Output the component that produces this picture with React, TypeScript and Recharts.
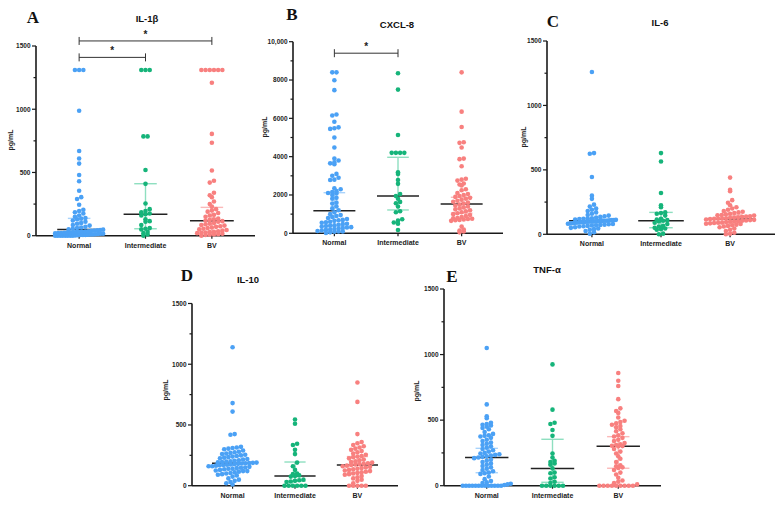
import React from "react";
import { ScatterChart, Scatter, XAxis, YAxis, ReferenceLine } from "recharts";

const GROUPS = ["Normal", "Intermediate", "BV"];
const DOT = ["#4ba1f5", "#16b47a", "#f8807f"];
const BAR = ["#a9d3fb", "#8fdfc0", "#fbb9b9"];
const AXIS = "#1a1a1a";

// IL-1β (pg/mL)
const il1bNormal = [1310, 1310, 1310, 988, 670, 610, 570, 480, 430, 355, 305, 290, 245, 205, 195, 185, 175, 160, 150, 140, 135, 130, 120, 110, 100, 95, 85, 80, 70, 65, 60, 55, 50, 48, 45, 42, 40, 38, 35, 32, 30, 30, 28, 26, 25, 25, 22, 20, 20, 18, 15, 15, 14, 12, 10, 10, 8, 6, 5, 5, 3, 2, 0, 0, 0, 0, 0, 0, 0, 0];
const il1bIntermediate = [1310, 1310, 1310, 785, 785, 520, 410, 255, 210, 195, 185, 175, 170, 160, 130, 115, 110, 85, 60, 55, 50, 30, 20, 10, 0];
const il1bBV = [1310, 1310, 1310, 1310, 1310, 1310, 1210, 805, 735, 515, 435, 420, 340, 320, 305, 270, 250, 230, 210, 200, 190, 180, 165, 160, 150, 135, 130, 125, 120, 115, 110, 100, 95, 90, 85, 80, 75, 70, 65, 60, 55, 50, 45, 40, 35, 30, 28, 25, 22, 20, 15, 12, 10, 8, 5, 0];
const il1bMedian = [50, 169, 119];
const il1bQ1 = [10, 55, 30];
const il1bQ3 = [137, 411, 224];
const il1bBrackets = [
  { from: 0, to: 1, y: 1410 },
  { from: 0, to: 2, y: 1540 },
];

// CXCL-8 (pg/mL)
const cxcl8Normal = [8400, 8400, 7990, 7470, 6200, 6150, 5820, 5530, 5480, 5450, 5000, 4480, 3900, 3800, 3700, 3650, 3600, 3100, 3000, 2900, 2800, 2780, 2350, 2300, 2200, 2150, 2100, 2080, 2000, 1850, 1800, 1600, 1550, 1400, 1300, 1200, 1100, 1000, 950, 900, 850, 800, 750, 700, 680, 650, 600, 580, 550, 500, 480, 450, 420, 400, 380, 350, 320, 300, 280, 250, 220, 200, 180, 150, 120, 100, 100, 80, 50, 20];
const cxcl8Intermediate = [8350, 7500, 5130, 4200, 4200, 4200, 4200, 3180, 3100, 2780, 2580, 2050, 1950, 1800, 1640, 1570, 1400, 1150, 1100, 730, 660, 560, 500, 170];
const cxcl8BV = [8400, 6350, 5550, 4750, 4720, 4480, 3900, 3870, 3500, 2850, 2800, 2750, 2600, 2550, 2500, 2300, 2250, 2100, 2050, 2000, 1950, 1900, 1850, 1800, 1750, 1700, 1650, 1600, 1550, 1500, 1450, 1400, 1350, 1300, 1250, 1200, 1150, 1100, 1050, 1000, 950, 900, 850, 800, 780, 760, 750, 720, 700, 680, 650, 350, 200, 150, 100, 50];
const cxcl8Median = [1180, 1947, 1530];
const cxcl8Q1 = [380, 1218, 1050];
const cxcl8Q3 = [2120, 3967, 1880];
const cxcl8Brackets = [{ from: 0, to: 1, y: 9400 }];

// IL-6 (pg/mL)
const il6Normal = [1260, 630, 625, 445, 300, 275, 230, 215, 200, 190, 180, 170, 160, 150, 145, 140, 135, 130, 125, 120, 120, 118, 115, 112, 110, 110, 108, 106, 105, 105, 104, 103, 102, 101, 100, 100, 99, 98, 97, 96, 95, 94, 92, 90, 88, 86, 84, 82, 80, 78, 75, 72, 70, 68, 65, 62, 60, 55, 50, 45, 40, 35, 25, 15, 5];
const il6Intermediate = [630, 565, 320, 225, 210, 170, 165, 160, 145, 120, 115, 110, 105, 100, 90, 80, 65, 60, 50, 45, 40, 35, 5, 0];
const il6BV = [440, 345, 335, 265, 245, 225, 210, 200, 190, 180, 175, 170, 165, 160, 155, 150, 148, 145, 140, 138, 135, 132, 130, 128, 125, 123, 121, 120, 118, 115, 112, 110, 108, 105, 102, 100, 98, 95, 92, 90, 88, 85, 82, 80, 75, 70, 65, 60, 55, 45, 35, 25, 12, 5, 0];
const il6Median = [105, 105, 119];
const il6Q1 = [80, 51, 80];
const il6Q3 = [125, 170, 150];

// IL-10 (pg/mL)
const il10Normal = [1140, 680, 610, 425, 420, 320, 315, 310, 305, 300, 290, 280, 275, 270, 265, 260, 255, 250, 245, 240, 235, 230, 225, 220, 215, 210, 205, 200, 198, 195, 192, 190, 188, 186, 185, 183, 180, 178, 175, 172, 170, 168, 165, 160, 160, 155, 150, 148, 145, 140, 140, 135, 130, 125, 120, 120, 115, 110, 105, 100, 95, 90, 85, 75, 60, 50, 40, 30, 20, 10];
const il10Intermediate = [545, 510, 345, 335, 295, 260, 190, 160, 130, 100, 95, 85, 80, 75, 50, 45, 40, 35, 30, 0, 0, 0, 0, 0, 0];
const il10BV = [850, 690, 425, 360, 350, 335, 325, 315, 305, 295, 285, 275, 265, 255, 245, 240, 235, 225, 215, 210, 200, 195, 190, 185, 180, 178, 175, 170, 165, 160, 155, 150, 145, 140, 135, 130, 125, 120, 115, 110, 105, 100, 95, 90, 80, 70, 60, 50, 40, 20, 0, 0, 0, 0, 0];
const il10Median = [185, 80, 170];
const il10Q1 = [130, 38, 110];
const il10Q3 = [245, 195, 240];

// TNF-α (pg/mL)
const tnfNormal = [1050, 620, 530, 515, 480, 470, 465, 460, 450, 440, 430, 410, 395, 385, 380, 375, 365, 350, 340, 330, 320, 310, 300, 290, 280, 270, 260, 250, 245, 240, 235, 230, 225, 220, 215, 210, 200, 190, 180, 170, 160, 150, 140, 130, 120, 110, 100, 95, 90, 70, 50, 35, 25, 20, 15, 10, 5, 0, 0, 0, 0, 0, 0, 0, 0, 0, 0, 0, 0, 0];
const tnfIntermediate = [925, 580, 480, 470, 425, 380, 245, 215, 190, 180, 170, 160, 132, 100, 95, 65, 55, 30, 20, 0, 0, 0, 0, 0, 0];
const tnfBV = [860, 800, 760, 660, 590, 570, 555, 520, 495, 485, 475, 465, 455, 445, 430, 415, 400, 385, 375, 365, 350, 340, 325, 315, 310, 305, 302, 300, 280, 260, 245, 225, 205, 180, 155, 148, 140, 135, 120, 100, 85, 60, 40, 30, 20, 10, 0, 0, 0, 0, 0, 0, 0, 0, 0];
const tnfMedian = [216, 132, 300];
const tnfQ1 = [99, 26, 133];
const tnfQ3 = [285, 354, 374];

const TICKS_1500 = [0, 250, 500, 750, 1000, 1250, 1500];
const TICKS_10000 = [0, 1000, 2000, 3000, 4000, 5000, 6000, 7000, 8000, 9000, 10000];

const W = 779;
const H = 505;
const XH = 20;
const YW = 30;
const X_DOMAIN: [number, number] = [-0.65, 2.65];
const DOT_R = 2.3;
const DOT_GAP = 4.2;
const ROW_HALF = 24; // widest a row of dots may spread, px each side

type Box = { x0: number; x1: number; yTop: number; yBottom: number };
type Bracket = { from: number; to: number; y: number };

type PanelDef = {
  letter: string;
  title: string;
  groups: number[][];
  median: number[];
  q1: number[];
  q3: number[];
  yMax: number;
  ticks: number[];
  major: number;
  brackets: Bracket[];
  box: Box;
  titleAt: [number, number];
  letterAt: [number, number];
  yLabelAt: [number, number];
};

const PANELS: PanelDef[] = [
  {
    letter: "A", title: "IL-1β",
    groups: [il1bNormal, il1bIntermediate, il1bBV],
    median: il1bMedian, q1: il1bQ1, q3: il1bQ3,
    yMax: 1500, ticks: TICKS_1500, major: 500, brackets: il1bBrackets,
    box: { x0: 36, x1: 255, yTop: 46, yBottom: 235.7 },
    titleAt: [147, 19], letterAt: [33, 16.5], yLabelAt: [10, 140],
  },
  {
    letter: "B", title: "CXCL-8",
    groups: [cxcl8Normal, cxcl8Intermediate, cxcl8BV],
    median: cxcl8Median, q1: cxcl8Q1, q3: cxcl8Q3,
    yMax: 10000, ticks: TICKS_10000, major: 2000, brackets: cxcl8Brackets,
    box: { x0: 293, x1: 503, yTop: 41.7, yBottom: 233.3 },
    titleAt: [397, 25], letterAt: [292, 14], yLabelAt: [264, 127],
  },
  {
    letter: "C", title: "IL-6",
    groups: [il6Normal, il6Intermediate, il6BV],
    median: il6Median, q1: il6Q1, q3: il6Q3,
    yMax: 1500, ticks: TICKS_1500, major: 500, brackets: [],
    box: { x0: 547, x1: 775, yTop: 41, yBottom: 234.3 },
    titleAt: [660, 23], letterAt: [553, 20.5], yLabelAt: [523, 137],
  },
  {
    letter: "D", title: "IL-10",
    groups: [il10Normal, il10Intermediate, il10BV],
    median: il10Median, q1: il10Q1, q3: il10Q3,
    yMax: 1500, ticks: TICKS_1500, major: 500, brackets: [],
    box: { x0: 192, x1: 398, yTop: 303.5, yBottom: 485.7 },
    titleAt: [248, 280], letterAt: [187, 275], yLabelAt: [165, 390],
  },
  {
    letter: "E", title: "TNF-α",
    groups: [tnfNormal, tnfIntermediate, tnfBV],
    median: tnfMedian, q1: tnfQ1, q3: tnfQ3,
    yMax: 1500, ticks: TICKS_1500, major: 500, brackets: [],
    box: { x0: 444, x1: 661, yTop: 289, yBottom: 485.7 },
    titleAt: [547, 270], letterAt: [452, 275.5], yLabelAt: [416, 391],
  },
];

// bins the values into pixel rows and lines each row up side by side around the group centre
function swarm(values: number[], group: number, yMax: number, box: Box) {
  const catPx = (box.x1 - box.x0) / (X_DOMAIN[1] - X_DOMAIN[0]);
  const pxPerVal = (box.yBottom - box.yTop) / yMax;
  const rows = new Map<number, number[]>();
  [...values]
    .sort((a, b) => a - b)
    .forEach((v) => {
      const r = Math.round((v * pxPerVal) / DOT_GAP);
      if (!rows.has(r)) rows.set(r, []);
      rows.get(r)!.push(v);
    });
  const out: { x: number; y: number }[] = [];
  rows.forEach((row) => {
    const n = row.length;
    const step = n > 1 ? Math.min(DOT_GAP, (2 * ROW_HALF) / (n - 1)) : 0;
    row.forEach((v, j) => {
      const off = (j - (n - 1) / 2) * step;
      out.push({ x: group + off / catPx, y: v });
    });
  });
  return out;
}

function fmtTick(v: number) {
  return v >= 10000 ? v.toLocaleString("en-US") : String(v);
}

function YTick(props: any) {
  const { y, payload, axisX, major } = props;
  const v = payload.value as number;
  const isMajor = v % major === 0;
  return (
    <g>
      <line x1={axisX - (isMajor ? 4 : 2.5)} x2={axisX} y1={y} y2={y} stroke={AXIS} strokeWidth={1.2} />
      {isMajor && (
        <text x={axisX - 5.5} y={y} dy="0.35em" textAnchor="end" fontSize={6.5} fontWeight={700} fill="#222">
          {fmtTick(v)}
        </text>
      )}
    </g>
  );
}

function Panel({ p }: { p: PanelDef }) {
  const { box } = p;
  const capVal = (4 * p.yMax) / (box.yBottom - box.yTop);
  return (
    <div style={{ position: "absolute", left: 0, top: 0 }}>
      <ScatterChart
        width={W}
        height={H}
        margin={{ top: box.yTop, right: W - box.x1, bottom: H - box.yBottom - XH, left: box.x0 - YW }}
      >
        <XAxis
          type="number"
          dataKey="x"
          domain={X_DOMAIN}
          ticks={[0, 1, 2]}
          interval={0}
          tickFormatter={(v) => GROUPS[v]}
          height={XH}
          axisLine={{ stroke: AXIS, strokeWidth: 1.6 }}
          tickLine={{ stroke: AXIS, strokeWidth: 1.2 }}
          tickSize={3}
          tickMargin={4}
          tick={{ fontSize: 7, fontWeight: 700, fill: "#222" }}
        />
        <YAxis
          type="number"
          dataKey="y"
          domain={[0, p.yMax]}
          ticks={p.ticks}
          interval={0}
          width={YW}
          axisLine={{ stroke: AXIS, strokeWidth: 1.6 }}
          tickLine={false}
          tick={(t: any) => <YTick {...t} axisX={box.x0} major={p.major} />}
        />
        {p.groups.map((vals, i) => (
          <Scatter
            key={GROUPS[i]}
            name={GROUPS[i]}
            data={swarm(vals, i, p.yMax, box)}
            isAnimationActive={false}
            shape={(s: any) => <circle cx={s.cx} cy={s.cy} r={DOT_R} fill={DOT[i]} />}
          />
        ))}
        {p.groups.map((_, i) => (
          <ReferenceLine
            key={`iqr-${i}`}
            segment={[{ x: i, y: p.q1[i] }, { x: i, y: p.q3[i] }]}
            stroke={BAR[i]}
            strokeWidth={1.4}
          />
        ))}
        {p.groups.map((_, i) => (
          <ReferenceLine
            key={`q3-${i}`}
            segment={[{ x: i - 0.17, y: p.q3[i] }, { x: i + 0.17, y: p.q3[i] }]}
            stroke={BAR[i]}
            strokeWidth={1.4}
          />
        ))}
        {p.groups.map((_, i) => (
          <ReferenceLine
            key={`q1-${i}`}
            segment={[{ x: i - 0.17, y: p.q1[i] }, { x: i + 0.17, y: p.q1[i] }]}
            stroke={BAR[i]}
            strokeWidth={1.4}
          />
        ))}
        {p.groups.map((_, i) => (
          <ReferenceLine
            key={`med-${i}`}
            segment={[{ x: i - 0.33, y: p.median[i] }, { x: i + 0.33, y: p.median[i] }]}
            stroke="#222"
            strokeWidth={1.5}
          />
        ))}
        {p.brackets.map((b, k) => (
          <ReferenceLine
            key={`br-${k}`}
            segment={[{ x: b.from, y: b.y }, { x: b.to, y: b.y }]}
            stroke="#333"
            strokeWidth={1}
            ifOverflow="visible"
            label={{ value: "*", position: "top", offset: 3, fontSize: 10, fontWeight: 700, fill: "#222" }}
          />
        ))}
        {p.brackets.flatMap((b, k) =>
          [b.from, b.to].map((x, j) => (
            <ReferenceLine
              key={`brc-${k}-${j}`}
              segment={[{ x, y: b.y - capVal }, { x, y: b.y + capVal }]}
              stroke="#333"
              strokeWidth={1}
              ifOverflow="visible"
            />
          ))
        )}
      </ScatterChart>
    </div>
  );
}

function at([x, y]: [number, number], extra: React.CSSProperties = {}): React.CSSProperties {
  return {
    position: "absolute",
    left: x,
    top: y,
    transform: "translate(-50%, -50%)",
    whiteSpace: "nowrap",
    lineHeight: 1,
    ...extra,
  };
}

export default function App() {
  return (
    <div
      style={{
        position: "absolute",
        left: 0,
        top: 0,
        width: W,
        height: H,
        background: "#fff",
        overflow: "hidden",
        fontFamily: "'Liberation Sans', Arial, sans-serif",
      }}
    >
      {PANELS.map((p) => (
        <Panel key={p.letter} p={p} />
      ))}
      {PANELS.map((p) => (
        <React.Fragment key={`t-${p.letter}`}>
          <div style={at(p.letterAt, { fontFamily: "'Liberation Serif', serif", fontWeight: 700, fontSize: 17, color: "#111" })}>
            {p.letter}
          </div>
          <div style={at(p.titleAt, { fontWeight: 700, fontSize: 9.5, color: "#111" })}>{p.title}</div>
          <div style={at(p.yLabelAt, { fontWeight: 700, fontSize: 7, color: "#222", transform: "translate(-50%, -50%) rotate(-90deg)" })}>
            pg/mL
          </div>
        </React.Fragment>
      ))}
    </div>
  );
}
